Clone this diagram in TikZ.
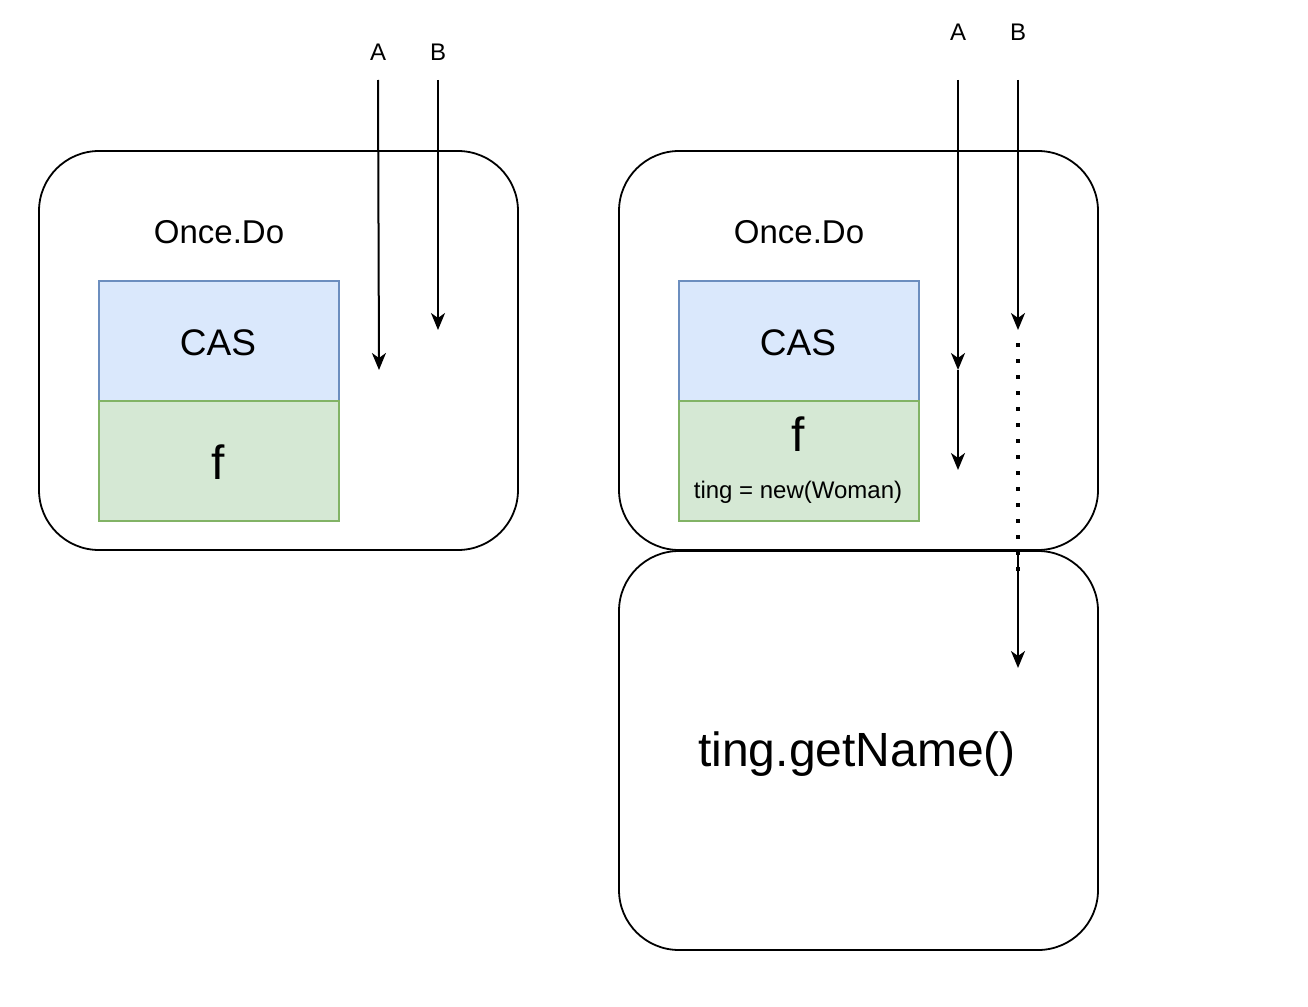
\documentclass[tikz,border=0pt]{standalone}
\usepackage{fontspec}
\setmainfont{Liberation Sans}
\usetikzlibrary{arrows.meta}
\begin{document}
\begin{tikzpicture}[x=1pt,y=-1pt,
  outer/.style={draw=black,line width=1.8pt,rounded corners=60pt,minimum width=479pt,minimum height=399pt,inner sep=0pt},
  casbox/.style={draw=casline,fill=casfill,line width=1.4pt,minimum width=240pt,minimum height=120pt,inner sep=0pt},
  fbox/.style={draw=fline,fill=ffill,line width=1.4pt,minimum width=240pt,minimum height=120pt,inner sep=0pt},
  lbl/.style={font=\fontsize{24}{28}\selectfont,inner sep=0pt},
  flow/.style={line width=2pt,-{Stealth[length=17pt,width=14pt,inset=5pt]}},
  dotline/.style={line width=4pt,dash pattern=on 4pt off 12pt}
]
\definecolor{casfill}{HTML}{DAE8FC}
\definecolor{casline}{HTML}{6C8EBF}
\definecolor{ffill}{HTML}{D5E8D4}
\definecolor{fline}{HTML}{82B366}
\useasboundingbox (0,0) rectangle (1308,1006);

% left
\node[outer] (L) at (278.5,350.5) {};
\node[font=\fontsize{33}{38}\selectfont] (Lt) at (219,232) {Once.Do};
\node[casbox] (Lcas) at (219,341) {};
\node[font=\fontsize{37}{42}\selectfont] at (218,343) {CAS};
\node[fbox] (Lf) at (219,461) {};
\node[font=\fontsize{48}{54}\selectfont] at (218,462) {f};
\node[lbl] (LA) at (378,52) {A};
\node[lbl] (LB) at (438,52) {B};
\coordinate (LAs) at (378,80);
\coordinate (LAe) at (379,370);
\coordinate (LBs) at (438,80);
\coordinate (LBe) at (438,330);
\draw[flow] (LAs) -- (LAe);
\draw[flow] (LBs) -- (LBe);

% right top
\node[outer] (R) at (858.5,350.5) {};
\node[outer] (R2) at (858.5,750.5) {};
\node[font=\fontsize{33}{38}\selectfont] (Rt) at (799,232) {Once.Do};
\node[casbox] (Rcas) at (799,341) {};
\node[font=\fontsize{37}{42}\selectfont] at (798,343) {CAS};
\node[fbox] (Rf) at (799,461) {};
\node[font=\fontsize{48}{54}\selectfont] at (798,434) {f};
\node[font=\fontsize{24}{28}\selectfont] at (798,492) {ting = new(Woman)};
\node[font=\fontsize{48}{54}\selectfont] (gn) at (857,754) {ting.getName()};
\node[lbl] (RA) at (958,32) {A};
\node[lbl] (RB) at (1018,32) {B};
\coordinate (RAs) at (958,80);
\coordinate (RAm) at (958,370);
\coordinate (RAe) at (958,470);
\coordinate (RBs) at (1018,80);
\coordinate (RBm) at (1018,330);
\coordinate (RBd1) at (1018,343);
\coordinate (RBd2) at (1018,572);
\coordinate (RBd3) at (1018,550);
\coordinate (RBe) at (1018,668);
\draw[flow] (RAs) -- (RAm);
\draw[flow] (RAm) -- (RAe);
\draw[flow] (RBs) -- (RBm);
\draw[dotline] (RBd1) -- (RBd2);
\draw[flow] (RBd3) -- (RBe);
\end{tikzpicture}
\end{document}
